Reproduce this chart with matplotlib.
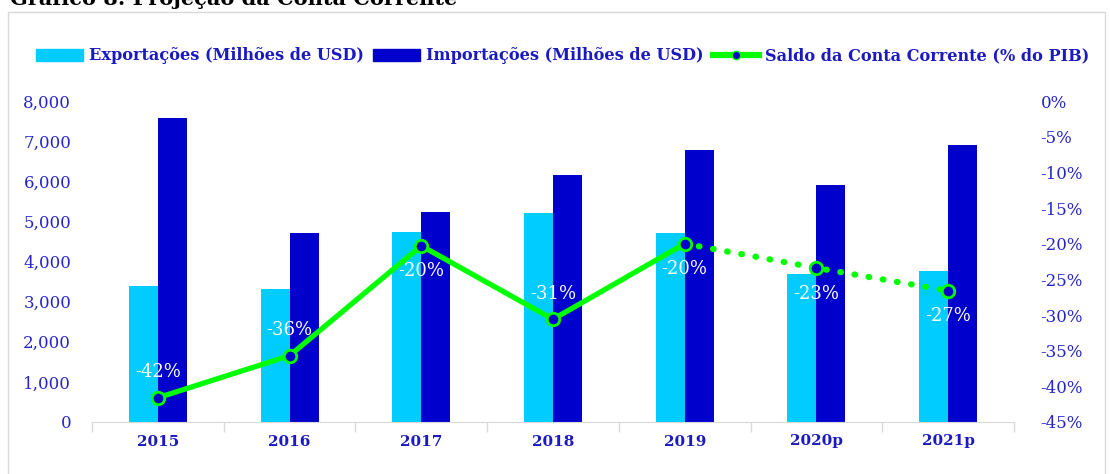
import numpy as np
import matplotlib.pyplot as plt
from matplotlib.patches import Rectangle
from matplotlib.lines import Line2D
from matplotlib.ticker import FuncFormatter

plt.rcParams['font.family'] = ['DejaVu Serif']

anos = ['2015', '2016', '2017', '2018', '2019', '2020p', '2021p']
exportacoes = [3390, 3320, 4740, 5210, 4710, 3690, 3770]
importacoes = [7580, 4710, 5240, 6160, 6780, 5910, 6910]
saldo = [-41.6, -35.7, -20.3, -30.6, -20.0, -23.4, -26.6]
rotulos = ['-42%', '-36%', '-20%', '-31%', '-20%', '-23%', '-27%']
acima = [True, True, False, True, False, False, False]

c_exp = '#00CCFF'
c_imp = '#0000CC'
c_lin = '#00FF00'
c_txt = '#2525C8'

fig = plt.figure(figsize=(11.1, 4.74), dpi=100)
fig.patches.append(Rectangle((8/1110, -0.1), 1097/1110, 1.1 - 12/474, transform=fig.transFigure,
                             fill=False, edgecolor='#D9D9D9', lw=1))
fig.text(10/1110, 1 - 5/474, 'Gráfico 8: Projeção da Conta Corrente', fontsize=15,
         fontweight='bold', color='black', va='baseline', ha='left')

ax = fig.add_axes([92/1110, 1 - 422/474, 922/1110, 321/474])
x = np.arange(len(anos))
w = 0.22
ax.bar(x - w/2, exportacoes, w, color=c_exp, label='Exportações (Milhões de USD)')
ax.bar(x + w/2, importacoes, w, color=c_imp, label='Importações (Milhões de USD)')
ax.set_xlim(-0.5, 6.5)
ax.set_ylim(0, 8000)
ax.set_yticks(range(0, 8001, 1000))
ax.yaxis.set_major_formatter(FuncFormatter(lambda v, p: f'{int(v):,}'))
ax.set_xticks(x)
ax.set_xticklabels(anos, fontsize=11, fontweight='bold', color='#1A1AC0')
ax.set_xticks(np.arange(-0.5, 7, 1), minor=True)
ax.tick_params(axis='x', which='major', length=0, pad=9)
ax.tick_params(axis='x', which='minor', length=7, color='#D9D9D9', width=1)
ax.tick_params(axis='y', length=0, labelsize=12, labelcolor=c_txt, pad=15)
for s in ['top', 'right', 'left']:
    ax.spines[s].set_visible(False)
ax.spines['bottom'].set_color('#D9D9D9')

ax2 = ax.twinx()
ax2.set_ylim(-45, 0)
ax2.set_yticks(range(-45, 1, 5))
ax2.yaxis.set_major_formatter(FuncFormatter(lambda v, p: f'{int(v)}%'))
ax2.tick_params(axis='y', length=0, labelsize=12, labelcolor=c_txt, pad=19)
for s in ['top', 'right', 'left', 'bottom']:
    ax2.spines[s].set_visible(False)

ax2.plot(x[:5], saldo[:5], color=c_lin, lw=3.8, solid_capstyle='round', zorder=3)
ax2.plot(x[4:], saldo[4:], color=c_lin, lw=4.5, linestyle=(0, (0.1, 2.2)),
         dash_capstyle='round', zorder=3)
ax2.plot(x, saldo, linestyle='none', marker='o', markersize=9, markerfacecolor=c_imp,
         markeredgecolor=c_lin, markeredgewidth=2, zorder=4)
for xi, yi, r, up in zip(x, saldo, rotulos, acima):
    ax2.text(xi, yi + (3.6 if up else -3.6), r, color='white', fontsize=13,
             ha='center', va='center', zorder=5)

handles = [Rectangle((0, 0), 1, 1, color=c_exp), Rectangle((0, 0), 1, 1, color=c_imp),
           Line2D([], [], color=c_lin, lw=4.5, marker='o', markersize=6,
                  markerfacecolor=c_imp, markeredgecolor=c_lin)]
labels = ['Exportações (Milhões de USD)', 'Importações (Milhões de USD)',
          'Saldo da Conta Corrente (% do PIB)']
leg = fig.legend(handles, labels, loc='center', bbox_to_anchor=(0.507, 1 - 56/474), ncol=3,
                 frameon=False, fontsize=11.6, handlelength=2.9, handleheight=0.8,
                 handletextpad=0.35, columnspacing=0.6)
for t in leg.get_texts():
    t.set_color('#1A1AC0')
    t.set_fontweight('bold')

fig.savefig('out.png', dpi=100)
